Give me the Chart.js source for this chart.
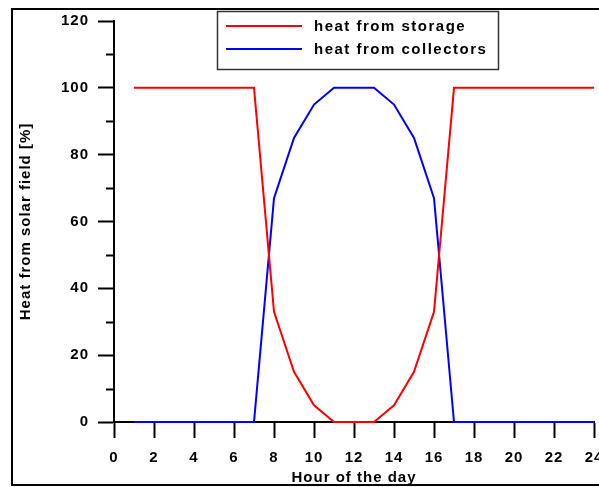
<!DOCTYPE html>
<html>
<head>
<meta charset="utf-8">
<script src="https://cdn.jsdelivr.net/npm/chart.js@4.4.1/dist/chart.umd.min.js"></script>
<style>
  html, body { margin: 0; padding: 0; background: #fff; overflow: hidden; }
</style>
</head>
<body>
<canvas id="chart" width="599" height="487"></canvas>
<script>
const hours          = [1, 2, 3, 4, 5, 6, 7, 8, 9, 10, 11, 12, 13, 14, 15, 16, 17, 18, 19, 20, 21, 22, 23, 24];
const fromStorage    = [100, 100, 100, 100, 100, 100, 100, 33, 15, 5, 0, 0, 0, 5, 15, 33, 100, 100, 100, 100, 100, 100, 100, 100];
const fromCollectors = [0, 0, 0, 0, 0, 0, 0, 67, 85, 95, 100, 100, 100, 95, 85, 67, 0, 0, 0, 0, 0, 0, 0, 0];
const seriesNames    = ['heat from storage', 'heat from collectors'];
const seriesColors   = ['#ff0000', '#0000ff'];
const xTickValues    = [0, 2, 4, 6, 8, 10, 12, 14, 16, 18, 20, 22, 24];
const yTickValues    = [0, 20, 40, 60, 80, 100, 120];
const yMinorTicks    = [10, 30, 50, 70, 90, 110];

const FONT = 'Liberation Sans, Arial, sans-serif';

const toPoints = ys => hours.map((h, i) => ({ x: h, y: ys[i] }));

// outer frame, minor ticks and the boxed legend
const decor = {
  id: 'decor',
  beforeDraw(chart) {
    const ctx = chart.ctx;
    ctx.letterSpacing = '1px';
    ctx.save();
    ctx.strokeStyle = '#000';
    ctx.lineWidth = 2;
    ctx.strokeRect(12, 9, 610, 476);
    ctx.restore();
  },
  beforeDatasetsDraw(chart) {
    const ctx = chart.ctx;
    const y = chart.scales.y;
    const x0 = chart.chartArea.left;
    ctx.save();
    ctx.strokeStyle = '#000';
    ctx.lineWidth = 2;
    yMinorTicks.forEach(v => {
      const py = Math.round(y.getPixelForValue(v)) + 0.5;
      ctx.beginPath();
      ctx.moveTo(x0 - 8, py);
      ctx.lineTo(x0, py);
      ctx.stroke();
    });
    ctx.restore();
  },
  afterDraw(chart) {
    const ctx = chart.ctx;
    ctx.save();
    ctx.strokeStyle = '#333';
    ctx.lineWidth = 1.5;
    ctx.strokeRect(217.5, 11.5, 281, 58);
    ctx.font = 'bold 15px ' + FONT;
    ctx.letterSpacing = '1.5px';
    ctx.textBaseline = 'middle';
    ctx.textAlign = 'left';
    ctx.fillStyle = '#000';
    chart.data.datasets.forEach((ds, i) => {
      const ly = 26 + i * 23;
      ctx.strokeStyle = ds.borderColor;
      ctx.lineWidth = 2;
      ctx.beginPath();
      ctx.moveTo(226, ly);
      ctx.lineTo(302, ly);
      ctx.stroke();
      ctx.fillText(ds.label, 314, ly + 1);
    });
    ctx.restore();
  }
};

new Chart(document.getElementById('chart'), {
  type: 'line',
  data: {
    datasets: [
      { label: seriesNames[0], data: toPoints(fromStorage), borderColor: seriesColors[0], borderWidth: 2, pointRadius: 0, tension: 0, clip: false },
      { label: seriesNames[1], data: toPoints(fromCollectors), borderColor: seriesColors[1], borderWidth: 2, pointRadius: 0, tension: 0, clip: false }
    ]
  },
  options: {
    responsive: false,
    animation: false,
    devicePixelRatio: 1,
    layout: { autoPadding: false, padding: { left: 0, right: 5, top: 21, bottom: 0 } },
    plugins: { legend: { display: false }, tooltip: { enabled: false } },
    scales: {
      x: {
        type: 'linear',
        min: 0, max: 24,
        afterBuildTicks: s => { s.ticks = xTickValues.map(v => ({ value: v })); },
        afterFit: s => { s.height = 65; s.paddingLeft = 0; s.paddingRight = 0; },
        grid: { drawOnChartArea: false, drawTicks: true, tickLength: 16, tickWidth: 2, tickColor: '#000' },
        border: { display: true, color: '#000', width: 2 },
        ticks: { color: '#000', padding: 11, font: { family: FONT, size: 15, weight: 'bold' }, maxRotation: 0 },
        title: { display: true, text: 'Hour of the day', color: '#000', padding: { top: 0, bottom: 0 }, font: { family: FONT, size: 15, weight: 'bold' } }
      },
      y: {
        min: 0, max: 120,
        afterBuildTicks: s => { s.ticks = yTickValues.map(v => ({ value: v })); },
        afterFit: s => { s.width = 114; s.paddingTop = 0; s.paddingBottom = 0; },
        grid: { drawOnChartArea: false, drawTicks: true, tickLength: 16, tickWidth: 2, tickColor: '#000' },
        border: { display: true, color: '#000', width: 2 },
        ticks: { color: '#000', padding: 9, font: { family: FONT, size: 15, weight: 'bold' } },
        title: { display: true, text: 'Heat from solar field [%]', color: '#000', padding: { top: 17, bottom: 0 }, font: { family: FONT, size: 15, weight: 'bold' } }
      }
    }
  },
  plugins: [decor]
});
</script>
</body>
</html>
